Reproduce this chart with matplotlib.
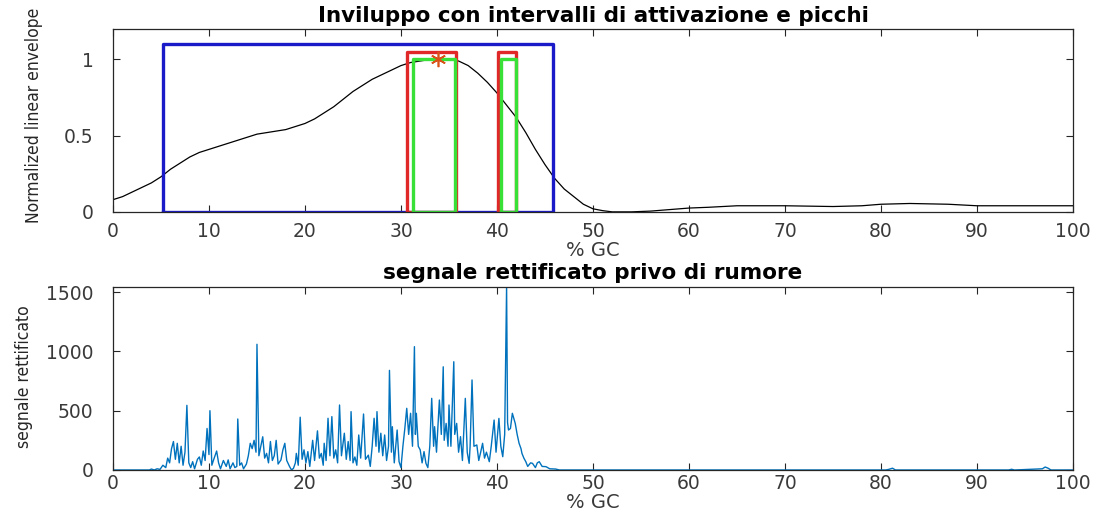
import numpy as np
from matplotlib import pyplot as plt
from matplotlib import font_manager

# envelope (top panel)
env_x = [0, 1, 2, 3, 4, 5, 6, 7, 8, 9, 10, 11, 12, 13, 14, 15, 16, 17, 18, 19,
         20, 21, 22, 23, 24, 25, 26, 27, 28, 29, 30, 31, 32, 33, 34, 35, 36, 37,
         38, 39, 40, 41, 42, 43, 44, 45, 46, 47, 48, 49, 50, 51, 52, 54, 56, 58,
         60, 62, 65, 70, 75, 78, 80, 83, 87, 90, 95, 100]
env_y = [0.08, 0.10, 0.13, 0.16, 0.19, 0.23, 0.28, 0.32, 0.36, 0.39, 0.41, 0.43,
         0.45, 0.47, 0.49, 0.51, 0.52, 0.53, 0.54, 0.56, 0.58, 0.61, 0.65, 0.69,
         0.74, 0.79, 0.83, 0.87, 0.90, 0.93, 0.96, 0.98, 0.99, 1.0, 1.0, 1.0, 0.99,
         0.96, 0.91, 0.85, 0.78, 0.70, 0.62, 0.52, 0.41, 0.31, 0.22, 0.15, 0.10,
         0.05, 0.02, 0.008, 0.0, 0.0, 0.005, 0.015, 0.025, 0.03, 0.04, 0.04,
         0.035, 0.04, 0.05, 0.055, 0.05, 0.04, 0.04, 0.04]

# activation intervals (start, end, height)
blue_iv = [(5.2, 45.8, 1.1)]
red_iv = [(30.6, 35.7, 1.05), (40.1, 42.0, 1.05)]
green_iv = [(31.3, 35.6, 1.0), (40.4, 42.0, 1.0)]
peak_x = [33.9]
peak_y = [1.0]

# rectified signal (bottom panel)
sig_x = [0, 3.8, 4.0, 4.3, 4.6, 4.9, 5.2, 5.5, 5.7, 5.9, 6.1, 6.3, 6.5, 6.7, 6.9,
         7.1, 7.3, 7.5, 7.7, 7.9, 8.1, 8.3, 8.5, 8.8, 9.0, 9.2, 9.4, 9.6, 9.8,
         10.0, 10.1, 10.3, 10.5, 10.8, 11.0, 11.2, 11.5, 11.8, 12.0, 12.2, 12.5,
         12.7, 12.9, 13.0, 13.2, 13.4, 13.6, 13.9, 14.1, 14.3, 14.5, 14.7, 14.9,
         15.0, 15.2, 15.4, 15.6, 15.8, 16.0, 16.2, 16.4, 16.6, 16.8, 17.0, 17.2,
         17.5, 17.7, 17.9, 18.1, 18.4, 18.6, 18.8, 19.0, 19.1, 19.3, 19.5, 19.7,
         19.9, 20.1, 20.3, 20.5, 20.8, 21.0, 21.3, 21.5, 21.7, 21.9, 22.0, 22.2,
         22.4, 22.6, 22.8, 23.0, 23.2, 23.4, 23.6, 23.8, 24.1, 24.3, 24.5, 24.7,
         24.8, 25.0, 25.2, 25.4, 25.6, 25.8, 26.1, 26.3, 26.6, 26.8, 27.0, 27.2,
         27.4, 27.5, 27.7, 27.9, 28.1, 28.3, 28.5, 28.7, 28.8, 29.0, 29.1, 29.3,
         29.6, 29.8, 30.0, 30.2, 30.4, 30.6, 30.8, 31.0, 31.2, 31.4, 31.5, 31.6,
         31.8, 32.0, 32.2, 32.4, 32.6, 32.8, 33.0, 33.2, 33.4, 33.5, 33.7, 34.0,
         34.2, 34.4, 34.5, 34.7, 34.9, 35.0, 35.2, 35.5, 35.6, 35.8, 36.0, 36.2,
         36.4, 36.7, 36.9, 37.1, 37.2, 37.4, 37.6, 37.9, 38.1, 38.3, 38.5, 38.7,
         38.9, 39.2, 39.4, 39.7, 39.9, 40.2, 40.4, 40.6, 40.8, 41.0, 41.1, 41.2,
         41.4, 41.6, 41.8, 41.9, 42.1, 42.3, 42.5, 42.6, 42.8, 43.0, 43.2, 43.5,
         43.7, 44.0, 44.2, 44.4, 44.7, 45.1, 45.5, 46.1, 46.5, 80.5, 80.8, 81.2,
         81.5, 93.3, 93.6, 93.9, 96.8, 97.1, 97.4, 97.7, 100]
sig_y = [0, 0, 8, 0, 10, 5, 40, 20, 100, 60, 180, 240, 90, 225, 60,
         200, 40, 150, 545, 60, 20, 70, 10, 90, 110, 40, 160, 80, 350,
         130, 500, 40, 90, 160, 60, 10, 80, 30, 85, 10, 60,
         20, 30, 430, 40, 60, 10, 50, 120, 225, 180, 250, 150,
         1060, 120, 200, 280, 100, 140, 60, 240, 80, 120, 250, 50,
         85, 170, 225, 80, 28, 0, 14, 60, 140, 40, 445, 90,
         170, 60, 155, 30, 250, 80, 330, 100, 140, 40, 225, 80,
         436, 120, 450, 100, 170, 60, 548, 120, 310, 90, 240, 80,
         492, 60, 110, 40, 295, 100, 472, 90, 125, 30, 200, 436,
         200, 492, 150, 310, 120, 295, 80, 200, 840, 150, 365, 60,
         337, 70, 20, 200, 350, 520, 300, 478, 200, 1040, 300, 478,
         200, 170, 60, 155, 56, 20, 200, 604, 200, 365, 150, 590,
         300, 870, 250, 393, 200, 548, 200, 913, 300, 393, 150, 281,
         80, 604, 150, 56, 200, 759, 200, 211, 80, 150, 225, 100,
         150, 70, 200, 421, 150, 435, 200, 112, 300, 1545, 400, 337,
         350, 478, 420, 393, 300, 225, 180, 140, 100, 70, 30, 60,
         56, 20, 60, 70, 30, 28, 10, 8, 0, 0, 5, 15,
         0, 0, 6, 0, 10, 25, 15, 0, 0]

plt.rcParams['font.family'] = ['DejaVu Sans']
axcol = '#262626'
txtcol = '#3a3a3a'

# condensed face for the y labels if the system has it
cond = [f for f in font_manager.fontManager.ttflist
        if f.name == 'DejaVu Sans' and f.stretch == 'condensed' and f.weight == 400]
if cond:
    ylab_kw = dict(family='DejaVu Sans', fontstretch='condensed', fontsize=12.5)
else:
    ylab_kw = dict(family='Liberation Sans', fontsize=12.5)

fig = plt.figure(figsize=(11.01, 5.18), dpi=100)
ax1 = fig.add_axes([0.1026, 0.591, 0.872, 0.353])
ax2 = fig.add_axes([0.1026, 0.0927, 0.872, 0.353])

ax1.plot(env_x, env_y, color='k', lw=0.9)
for col, ivs in (('#1a1ac8', blue_iv), ('#e02828', red_iv), ('#38e038', green_iv)):
    for a, b, h in ivs:
        ax1.plot([a, a, b, b, a], [0, h, h, 0, 0], color=col, lw=2.4)
ax1.plot(peak_x, peak_y, marker=(6, 2, 0), ls='none', color='#D95319', ms=11, mew=1.2)
ax1.set_xlim(0, 100)
ax1.set_ylim(0, 1.2)
ax1.set_yticks([0, 0.5, 1])
ax1.set_yticklabels(['0', '0.5', '1'])
ax1.set_title('Inviluppo con intervalli di attivazione e picchi',
              fontsize=15.5, fontweight='bold', pad=5)
ax1.set_ylabel('Normalized linear envelope', color=axcol, **ylab_kw)
ax1.yaxis.set_label_coords(-0.073, 0.53)

ax2.plot(sig_x, sig_y, color='#0072BD', lw=1.0)
ax2.set_xlim(0, 100)
ax2.set_ylim(0, 1542)
ax2.set_yticks([0, 500, 1000, 1500])
ax2.set_title('segnale rettificato privo di rumore',
              fontsize=15.5, fontweight='bold', pad=6)
ax2.set_ylabel('segnale rettificato', color=axcol, **ylab_kw)
ax2.yaxis.set_label_coords(-0.083, 0.51)

for ax, xpad, lpad in ((ax1, 7, 0), (ax2, 3, 0)):
    ax.set_xticks(np.arange(0, 101, 10))
    ax.set_xlabel('% GC', fontsize=14, color=txtcol, labelpad=lpad)
    ax.tick_params(direction='in', top=True, right=True, labelsize=13.5,
                   colors=axcol, labelcolor=txtcol, length=5, width=0.8)
    ax.tick_params(axis='x', pad=xpad)
    ax.tick_params(axis='y', pad=14)
    for sp in ax.spines.values():
        sp.set_color(axcol)
        sp.set_linewidth(0.9)

fig.savefig('out.png', dpi=100)
